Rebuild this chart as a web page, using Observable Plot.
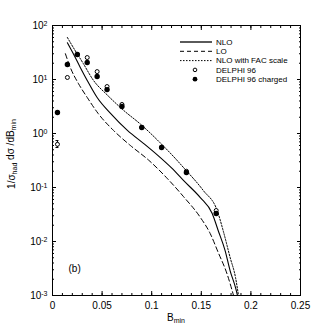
<!DOCTYPE html>
<html><head>
<meta charset="utf-8">
<script src="https://cdn.jsdelivr.net/npm/d3@7"></script>
<script src="https://cdn.jsdelivr.net/npm/@observablehq/plot@0.6"></script>
<style>
body{margin:0;background:#fff}
svg{font-family:"Liberation Sans",Arial,Helvetica,sans-serif}
</style>
</head><body><div id="chart"></div>
<script>
// ---- data ----
const nloB = [0.015,0.021,0.028,0.035,0.045,0.0585,0.0755,0.092,0.105,0.12,0.132,0.149,0.161,0.167,0.174,0.179,0.1845,0.1865];
const nloV = [48,30,16.7,9.6,4.64,2.35,1.14,0.65,0.41,0.23,0.135,0.065,0.033,0.016,0.0068,0.0029,0.0014,0.001];
const loB  = [0.013,0.018,0.026,0.035,0.046,0.0615,0.0785,0.097,0.116,0.132,0.149,0.159,0.167,0.176,0.1825];
const loV  = [30,16.6,8.5,4.65,2.35,1.14,0.6,0.32,0.145,0.068,0.028,0.014,0.0063,0.0025,0.001];
const facB = [0.015,0.021,0.031,0.041,0.0555,0.0715,0.0885,0.099,0.109,0.12,0.132,0.152,0.166,0.172,0.179,0.1845,0.1875];
const facV = [60,39,19.8,9.8,5.1,2.7,1.5,1.0,0.66,0.41,0.235,0.088,0.0375,0.016,0.0051,0.00215,0.001];
const delphiB = [0.005,0.015,0.025,0.035,0.045,0.055,0.07,0.09,0.11,0.135,0.165];
const delphiV = [0.63,10.9,29,25.5,14,7.4,3.45,1.3,0.56,0.2,0.0375];
const chargedB = [0.005,0.015,0.025,0.035,0.045,0.055,0.07,0.09,0.11,0.135,0.165];
const chargedV = [2.45,19,29,20.6,11.4,6.5,3.16,1.29,0.55,0.19,0.033];
const errB = [0.005];
const errLo = [0.55];
const errHi = [0.74];
const xTicks = [0,0.05,0.1,0.15,0.2,0.25];
const xMinor = d3.range(0,26).map(i=>i/100);
const yTicks = [1e-3,1e-2,1e-1,1,10,100];
const yMinor = yTicks.slice(0,-1).flatMap(p=>[2,3,4,5,6,7,8,9].map(m=>m*p));
const legendItems = ["NLO","LO","NLO with FAC scale","DELPHI 96","DELPHI 96 charged"];
const panelLabel = "(b)";

const rows = (B,V)=>B.map((b,i)=>({b,v:V[i]}));
const nlo = rows(nloB,nloV), lo = rows(loB,loV), fac = rows(facB,facV);
const delphi = rows(delphiB,delphiV), charged = rows(chargedB,chargedV);
const errs = errB.map((b,i)=>({b,lo:errLo[i],hi:errHi[i]}));

const xFmt = d => d===0 ? "0" : String(+d.toFixed(2));
const yFmt = d => "10^" + Math.round(Math.log10(d));
const blank = () => "";
const FS = 10;

const chart = Plot.plot({
  width: 327, height: 326,
  marginLeft: 52, marginRight: 27, marginTop: 25, marginBottom: 31,
  style: {fontSize: FS+"px", fontFamily: '"Liberation Sans",Arial,sans-serif', background:"#fff", color:"#000"},
  x: {domain:[0,0.25]},
  y: {type:"log", domain:[1e-3,1e2]},
  marks: [
    Plot.axisX(xTicks, {anchor:"bottom", tickSize:0, tickPadding:6, tickFormat:xFmt, label:null, fontSize:FS}),
    Plot.axisX(xTicks, {anchor:"bottom", tickSize:-4, tickFormat:blank, label:null}),
    Plot.axisX(xMinor, {anchor:"bottom", tickSize:-2, tickFormat:blank, label:null}),
    Plot.axisX(xTicks, {anchor:"top", tickSize:-4, tickFormat:blank, label:null}),
    Plot.axisX(xMinor, {anchor:"top", tickSize:-2, tickFormat:blank, label:null}),
    Plot.axisY(yTicks, {anchor:"left", tickSize:0, tickPadding:5, tickFormat:yFmt, label:null, fontSize:FS}),
    Plot.axisY(yTicks, {anchor:"left", tickSize:-4, tickFormat:blank, label:null}),
    Plot.axisY(yMinor, {anchor:"left", tickSize:-2, tickFormat:blank, label:null}),
    Plot.axisY(yTicks, {anchor:"right", tickSize:-4, tickFormat:blank, label:null}),
    Plot.axisY(yMinor, {anchor:"right", tickSize:-2, tickFormat:blank, label:null}),
    Plot.line(nlo, {x:"b", y:"v", stroke:"#000", strokeWidth:1.1, curve:"monotone-x"}),
    Plot.line(lo, {x:"b", y:"v", stroke:"#000", strokeWidth:1, strokeDasharray:"5,3", curve:"monotone-x"}),
    Plot.line(fac, {x:"b", y:"v", stroke:"#000", strokeWidth:1, strokeDasharray:"1.5,1.5", curve:"monotone-x"}),
    Plot.ruleX(errs, {x:"b", y1:"lo", y2:"hi", stroke:"#000", strokeWidth:1}),
    Plot.ruleY(errs, {y:"lo", x1:d=>d.b-0.0015, x2:d=>d.b+0.0015, stroke:"#000", strokeWidth:1}),
    Plot.ruleY(errs, {y:"hi", x1:d=>d.b-0.0015, x2:d=>d.b+0.0015, stroke:"#000", strokeWidth:1}),
    Plot.dot(delphi, {x:"b", y:"v", r:2, fill:"#fff", stroke:"#000", strokeWidth:1}),
    Plot.dot(charged, {x:"b", y:"v", r:2.7, fill:"#000", stroke:"none"}),
    Plot.text([panelLabel], {frameAnchor:"bottom-left", dx:16, dy:-27, textAnchor:"start", lineAnchor:"middle", fontSize:FS}),
    Plot.frame({stroke:"#000", strokeWidth:1})
  ]
});
document.getElementById("chart").appendChild(chart);

const svg = d3.select(chart);
// superscript exponents on y tick labels
svg.selectAll('g[aria-label="y-axis tick label"] text').each(function(){
  const t = d3.select(this); const s = t.text();
  const m = s.match(/^10\^(-?\d+)$/);
  if (m) { t.text("10"); t.append("tspan").attr("dy","-0.45em").attr("font-size","7px").text(m[1]); }
});

// axis titles with subscripts
const yl = svg.append("text").attr("transform","translate(15,154) rotate(-90)")
  .attr("text-anchor","middle").attr("font-size",FS+"px").attr("fill","#000");
yl.append("tspan").text("1/σ");
yl.append("tspan").attr("font-size","7px").attr("dy","0.3em").text("had");
yl.append("tspan").attr("dy","-0.3em").text(" dσ /dB");
yl.append("tspan").attr("font-size","7px").attr("dy","0.3em").text("min");

const xl = svg.append("text").attr("x",176).attr("y",321)
  .attr("text-anchor","middle").attr("font-size",FS+"px").attr("fill","#000");
xl.append("tspan").text("B");
xl.append("tspan").attr("font-size","7px").attr("dy","0.3em").text("min");

// legend
const lg = svg.append("g").attr("font-size","8px").attr("fill","#000").attr("text-anchor","start");
const styles = [{dash:null,w:1.3},{dash:"4,3",w:1},{dash:"1.5,1.5",w:1}];
legendItems.forEach((name,i)=>{
  const y = 42 + i*9.3;
  if (i<3) {
    lg.append("line").attr("x1",180).attr("x2",212).attr("y1",y).attr("y2",y)
      .attr("stroke","#000").attr("stroke-width",styles[i].w)
      .attr("stroke-dasharray",styles[i].dash);
  } else if (i===3) {
    lg.append("circle").attr("cx",195).attr("cy",y).attr("r",1.8).attr("fill","#fff").attr("stroke","#000");
  } else {
    lg.append("circle").attr("cx",195).attr("cy",y).attr("r",2.4).attr("fill","#000");
  }
  lg.append("text").attr("x",216).attr("y",y).attr("dy","0.35em").attr("text-anchor","start").text(name);
});
</script>
</body></html>
